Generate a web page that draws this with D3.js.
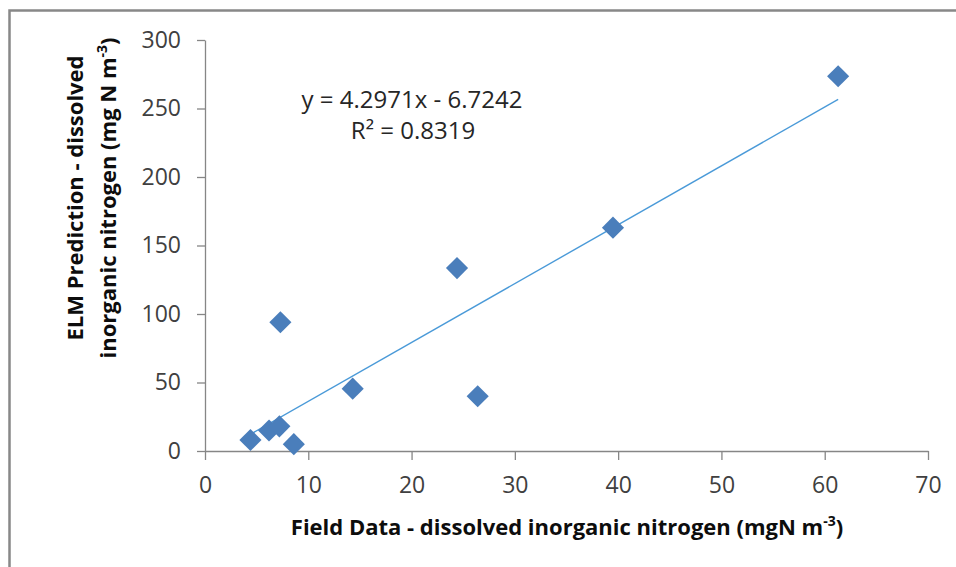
<!DOCTYPE html>
<html lang="en">
<head>
  <meta charset="utf-8" />
  <title>ELM Prediction vs Field Data</title>
  <script src="https://d3js.org/d3.v7.min.js"></script>
  <style>
    body { margin: 0; background: #fff; }
    text { font-family: "Open Sans", sans-serif; }
  </style>
</head>

<body>
  <div id="chart"></div>

  <script>
    // Data
    var fieldData     = [4.4, 6.2, 7.2, 8.6, 7.3, 14.3, 24.4, 26.4, 39.5, 61.3];
    var elmPrediction = [8, 15, 18, 5, 94, 45.5, 133.5, 40, 163, 273.5];
    var xTicks = [0, 10, 20, 30, 40, 50, 60, 70];
    var yTicks = [0, 50, 100, 150, 200, 250, 300];

    // trendline as printed on the chart
    var slope = 4.2971;
    var intercept = -6.7242;
    var rSquared = "0.8319";

    var width = 956, height = 567;

    var svg = d3.select("#chart")
                .append("svg")
                .attr("width", width)
                .attr("height", height);

    // outer frame (only top and left edges visible)
    svg.append("rect")
       .attr("x", 9.5)
       .attr("y", 10.5)
       .attr("width", 1000)
       .attr("height", 1000)
       .attr("fill", "none")
       .attr("stroke", "#888")
       .attr("stroke-width", 2.5);

    var x = d3.scaleLinear().domain([0, 70]).range([205, 928]);
    var y = d3.scaleLinear().domain([0, 300]).range([451, 40]);

    // y axis
    var yAxis = svg.append("g")
       .attr("transform", "translate(" + x(0) + ",0)")
       .call(d3.axisLeft(y).tickValues(yTicks).tickSize(8).tickPadding(16).tickSizeOuter(0));

    // x axis
    var xAxis = svg.append("g")
       .attr("transform", "translate(0," + y(0) + ")")
       .call(d3.axisBottom(x).tickValues(xTicks).tickSize(9).tickPadding(17).tickSizeOuter(0));

    [xAxis, yAxis].forEach(function(g) {
      g.select(".domain").attr("stroke", "#868686").attr("stroke-width", 1.3);
      g.selectAll(".tick line").attr("stroke", "#868686").attr("stroke-width", 1.3);
      g.selectAll(".tick text")
       .attr("fill", "#404040")
       .style("font-family", "'Open Sans', sans-serif")
       .style("font-size", "23px");
    });

    // trendline over the range of the data
    var x0 = d3.min(fieldData), x1 = d3.max(fieldData);
    svg.append("line")
       .attr("x1", x(x0))
       .attr("y1", y(slope * x0 + intercept))
       .attr("x2", x(x1))
       .attr("y2", y(slope * x1 + intercept))
       .attr("stroke", "#4a9ad8")
       .attr("stroke-width", 1.4);

    // diamond markers
    var diamond = d3.symbol().type(d3.symbolSquare).size(245);
    svg.selectAll(".point")
       .data(fieldData)
       .enter()
       .append("path")
       .attr("class", "point")
       .attr("d", diamond)
       .attr("transform", function(d, i) {
         return "translate(" + x(d) + "," + y(elmPrediction[i]) + ") rotate(45)";
       })
       .attr("fill", "#4a7ebb");

    // equation label
    var eq = svg.append("text")
       .attr("text-anchor", "middle")
       .attr("fill", "#262626")
       .style("font-size", "24px");
    eq.append("tspan")
      .attr("x", 412).attr("y", 108)
      .text("y = " + slope + "x - " + Math.abs(intercept));
    eq.append("tspan")
      .attr("x", 413).attr("y", 139)
      .text("R\u00b2 = " + rSquared);

    // x axis title
    var xt = svg.append("text")
       .attr("x", 567)
       .attr("y", 535)
       .attr("text-anchor", "middle")
       .attr("font-weight", "bold")
       .attr("fill", "#0d0d0d")
       .style("font-size", "22px");
    xt.append("tspan").text("Field Data - dissolved inorganic nitrogen (mgN m");
    xt.append("tspan").attr("dy", -9).style("font-size", "14px").text("-3");
    xt.append("tspan").attr("dy", 9).text(")");

    // y axis title, two lines
    var yt = svg.append("text")
       .attr("transform", "translate(0,198) rotate(-90)")
       .attr("text-anchor", "middle")
       .attr("font-weight", "bold")
       .attr("fill", "#0d0d0d")
       .style("font-size", "22px");
    yt.append("tspan")
      .attr("x", 0).attr("y", 83)
      .text("ELM Prediction - dissolved");
    var l2 = yt.append("tspan").attr("x", 0).attr("y", 116);
    l2.append("tspan").text("inorganic nitrogen (mg N m");
    l2.append("tspan").attr("dy", -9).style("font-size", "14px").text("-3");
    l2.append("tspan").attr("dy", 9).text(")");
  </script>
</body>
</html>
